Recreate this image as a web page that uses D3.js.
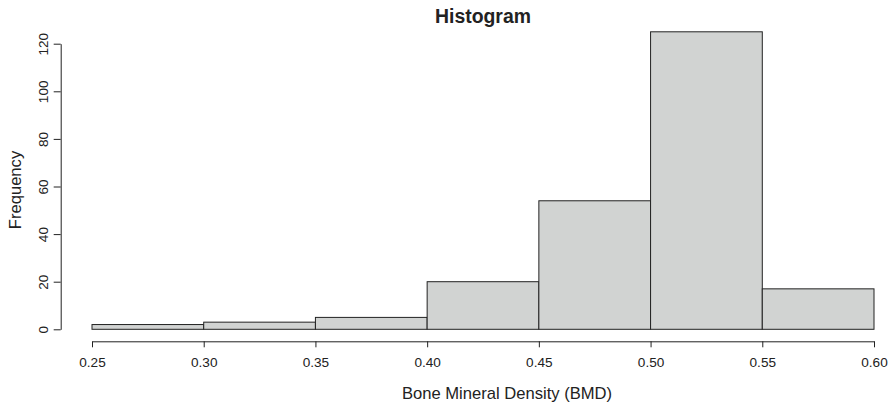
<!DOCTYPE html>
<html>
<head>
<meta charset="utf-8">
<script src="https://cdn.jsdelivr.net/npm/d3@7"></script>
<style>
  body { margin: 0; background: #fff; }
  svg text { font-family: "Liberation Sans", Arial, Helvetica, sans-serif; fill: #222; }
</style>
</head>
<body>
<div id="chart"></div>
<script>
// histogram bins (lower edge) and counts
const binStarts = [0.25, 0.30, 0.35, 0.40, 0.45, 0.50, 0.55];
const binWidth = 0.05;
const counts = [2, 3, 5, 20, 54, 125, 17];
const xTicks = [0.25, 0.30, 0.35, 0.40, 0.45, 0.50, 0.55, 0.60];
const yTicks = [0, 20, 40, 60, 80, 100, 120];

const width = 894;
const height = 406;

const svg = d3.select("#chart")
  .append("svg")
  .attr("width", width)
  .attr("height", height);

const x = d3.scaleLinear()
  .domain([0.25, 0.60])
  .range([92, 874]);

const y = d3.scaleLinear()
  .domain([0, 120])
  .range([329.3, 43.7]);

// bars
svg.append("g")
  .selectAll("rect")
  .data(binStarts)
  .join("rect")
  .attr("x", (d) => x(d))
  .attr("y", (d, i) => y(counts[i]))
  .attr("width", (d) => x(d + binWidth) - x(d))
  .attr("height", (d, i) => y(0) - y(counts[i]))
  .attr("fill", "#d1d3d2")
  .attr("stroke", "#222")
  .attr("stroke-width", 1);

// x axis
const xAxis = svg.append("g")
  .attr("transform", "translate(0,341.3)")
  .call(d3.axisBottom(x).tickValues(xTicks).tickFormat(d3.format(".2f")).tickSize(6).tickSizeOuter(0));
xAxis.select(".domain").attr("stroke", "#222");
xAxis.selectAll(".tick line").attr("stroke", "#222");
xAxis.selectAll(".tick text")
  .attr("y", 26)
  .attr("dy", null)
  .style("font-size", "13.6px");

// y axis
const yAxis = svg.append("g")
  .attr("transform", "translate(60.7,0)")
  .call(d3.axisLeft(y).tickValues(yTicks).tickSize(7).tickSizeOuter(0));
yAxis.select(".domain").attr("stroke", "#222");
yAxis.selectAll(".tick line").attr("stroke", "#222");
yAxis.selectAll(".tick text")
  .attr("x", null)
  .attr("dy", null)
  .attr("text-anchor", "middle")
  .attr("transform", "translate(-12.7,0) rotate(-90)")
  .style("font-size", "13.6px");

// titles
svg.append("text")
  .attr("x", 483)
  .attr("y", 23)
  .attr("text-anchor", "middle")
  .style("font-size", "19.4px")
  .style("font-weight", "bold")
  .text("Histogram");

svg.append("text")
  .attr("x", 507)
  .attr("y", 399)
  .attr("text-anchor", "middle")
  .style("font-size", "16.6px")
  .text("Bone Mineral Density (BMD)");

svg.append("text")
  .attr("transform", "translate(20.7,190) rotate(-90)")
  .attr("text-anchor", "middle")
  .style("font-size", "16.6px")
  .text("Frequency");
</script>
</body>
</html>
